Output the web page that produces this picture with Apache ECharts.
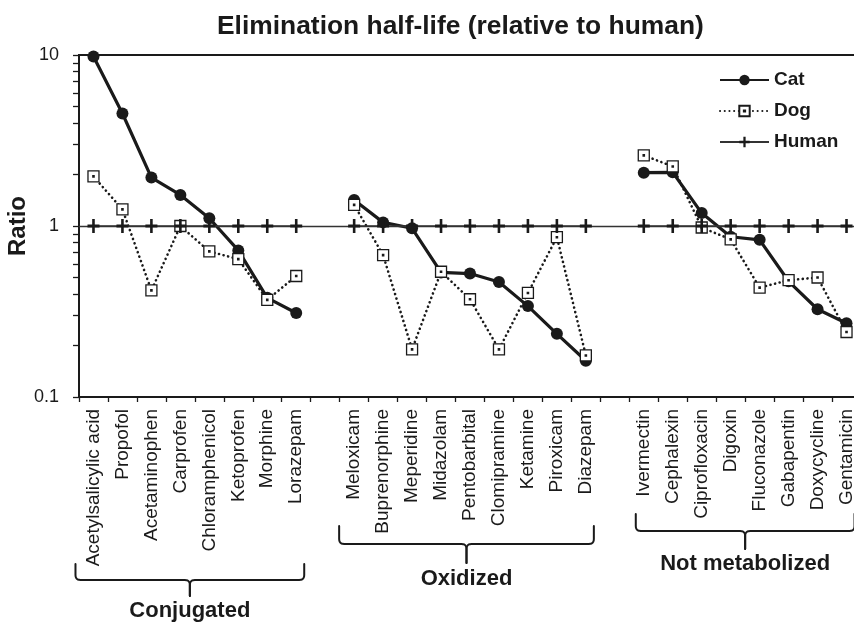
<!DOCTYPE html>
<html><head><meta charset="utf-8">
<script src="https://cdn.jsdelivr.net/npm/echarts@6/dist/echarts.min.js"></script>
<style>html,body{margin:0;padding:0;background:#fff}#c{width:854px;height:623px}</style>
</head><body><div id="c"></div>
<script>
const categories = ['Acetylsalicylic acid','Propofol','Acetaminophen','Carprofen','Chloramphenicol','Ketoprofen','Morphine','Lorazepam','',
  'Meloxicam','Buprenorphine','Meperidine','Midazolam','Pentobarbital','Clomipramine','Ketamine','Piroxicam','Diazepam','',
  'Ivermectin','Cephalexin','Ciprofloxacin','Digoxin','Fluconazole','Gabapentin','Doxycycline','Gentamicin'];
const catValues = [9.8,4.55,1.92,1.52,1.11,0.72,0.38,0.31,null,
  1.42,1.05,0.97,0.535,0.527,0.47,0.34,0.234,0.163,null,
  2.05,2.06,1.19,0.865,0.83,0.475,0.326,0.27];
const dogValues = [1.95,1.25,0.42,1.0,0.71,0.64,0.37,0.51,null,
  1.33,0.676,0.19,0.54,0.373,0.19,0.406,0.86,0.175,null,
  2.59,2.23,0.98,0.835,0.436,0.482,0.5,0.24];
const humanValues = [1,1,1,1,1,1,1,1,null,
  1,1,1,1,1,1,1,1,1,null,
  1,1,1,1,1,1,1,1];
const groupNames = ['Conjugated','Oxidized','Not metabolized'];
const groupFirst = [0, 9, 19];
const groupLast = [7, 17, 26];
const yTickLabels = [0.1, 1, 10];

const FONT = '"Liberation Sans", Arial, Helvetica, sans-serif';
const INK = '#1a1a1a';

// minor + major tick positions for log axis (2..9 within each decade)
const yTickValues = [];
for (let i = 0; i < yTickLabels.length - 1; i++) {
  for (let k = 1; k < 10; k++) yTickValues.push(+(yTickLabels[i] * k).toPrecision(3));
}
yTickValues.push(yTickLabels[yTickLabels.length - 1]);

const plusPath = 'path://M4.7,0H7.3V4.7H12V7.3H7.3V12H4.7V7.3H0V4.7H4.7Z';
const dogPath = 'path://M0,0H10V10H0Z M4.4,4.4H5.6V5.6H4.4Z';

const chart = echarts.init(document.getElementById('c'), null, {renderer: 'canvas'});
chart.setOption({
  animation: false,
  backgroundColor: '#fff',
  title: {
    text: 'Elimination half-life (relative to human)',
    left: 212, top: 9,
    textStyle: {fontFamily: FONT, fontSize: 26.4, fontWeight: 'bold', color: INK}
  },
  legend: {
    orient: 'vertical', left: 719, top: 70, padding: 0,
    itemWidth: 49, itemHeight: 13, itemGap: 11,
    data: ['Cat', 'Dog', 'Human'],
    textStyle: {fontFamily: FONT, fontSize: 19, fontWeight: 'bold', color: INK, lineHeight: 20}
  },
  grid: {left: 79, right: -7, top: 55, bottom: 226, show: true, borderColor: INK, borderWidth: 2,
    containLabel: false, outerBoundsMode: 'none'},
  xAxis: {
    type: 'category', data: categories, boundaryGap: true,
    axisLine: {lineStyle: {color: INK, width: 2}},
    axisTick: {show: true, interval: 0, length: 5, lineStyle: {color: INK, width: 1.3}},
    axisLabel: {interval: 0, rotate: 90, margin: 12, fontFamily: FONT, fontSize: 19, color: INK},
    splitLine: {show: false}
  },
  yAxis: {
    type: 'log', logBase: 10, min: 0.1, max: 10,
    name: 'Ratio', nameLocation: 'middle', nameRotate: 90, nameGap: 49, nameMoveOverlap: false,
    nameTextStyle: {fontFamily: FONT, fontSize: 24, fontWeight: 'bold', color: INK},
    axisLine: {show: true, lineStyle: {color: INK, width: 2}},
    axisTick: {show: true, length: 6, customValues: yTickValues, lineStyle: {color: INK, width: 1.3}},
    axisLabel: {customValues: yTickLabels, margin: 20, fontFamily: FONT, fontSize: 18, color: INK,
      formatter: v => String(+v.toPrecision(3))},
    splitLine: {show: false}
  },
  series: [
    {
      name: 'Cat', type: 'line', data: catValues,
      symbol: 'circle', symbolSize: 12,
      itemStyle: {color: INK},
      lineStyle: {color: INK, width: 3.2},
      z: 3
    },
    {
      name: 'Dog', type: 'line', data: dogValues,
      symbol: dogPath, symbolSize: 11,
      itemStyle: {color: '#fff', borderColor: INK, borderWidth: 1.3},
      lineStyle: {color: INK, width: 2.6, type: [0.1, 4.6], cap: 'round'},
      z: 4
    },
    {
      name: 'Human', type: 'line', data: humanValues,
      symbol: plusPath, symbolSize: [12, 14],
      itemStyle: {color: INK},
      lineStyle: {color: '#333', width: 1.3},
      markLine: {
        silent: true, symbol: ['none', 'none'], label: {show: false},
        lineStyle: {color: '#333', width: 1.3, type: 'solid'},
        data: [{yAxis: 1}]
      },
      z: 5
    }
  ]
});

// group braces beneath the category labels (annotation layout)
const braceLayout = [
  {dxL: -18, dxR: 8, yTop: 564, yH: 580, yBot: 596, labelY: 611},
  {dxL: -15, dxR: 8, yTop: 526, yH: 544, yBot: 563, labelY: 579},
  {dxL: -8,  dxR: 8, yTop: 514, yH: 531, yBot: 549, labelY: 564}
];
function quad(p0, c, p1, n, out) {
  for (let i = 1; i <= n; i++) {
    const t = i / n, a = (1 - t) * (1 - t), b = 2 * (1 - t) * t, d = t * t;
    out.push([a * p0[0] + b * c[0] + d * p1[0], a * p0[1] + b * c[1] + d * p1[1]]);
  }
}
const graphics = [];
groupNames.forEach((name, g) => {
  const L = braceLayout[g];
  const x1 = chart.convertToPixel({xAxisIndex: 0}, groupFirst[g]) + L.dxL;
  const x2 = chart.convertToPixel({xAxisIndex: 0}, groupLast[g]) + L.dxR;
  const xc = (x1 + x2) / 2, r = 5;
  const left = [[x1, L.yTop], [x1, L.yH - r]];
  quad([x1, L.yH - r], [x1, L.yH], [x1 + r, L.yH], 6, left);
  left.push([xc - r, L.yH]);
  quad([xc - r, L.yH], [xc, L.yH], [xc, L.yH + r], 6, left);
  left.push([xc, L.yBot]);
  const right = [[x2, L.yTop], [x2, L.yH - r]];
  quad([x2, L.yH - r], [x2, L.yH], [x2 - r, L.yH], 6, right);
  right.push([xc + r, L.yH]);
  quad([xc + r, L.yH], [xc, L.yH], [xc, L.yH + r], 6, right);
  right.push([xc, L.yBot]);
  [left, right].forEach(pts => graphics.push({
    type: 'polyline', shape: {points: pts},
    style: {stroke: INK, lineWidth: 2, fill: null, lineJoin: 'round', lineCap: 'round'}, silent: true
  }));
  graphics.push({
    type: 'text', x: xc, y: L.labelY,
    style: {text: name, fontFamily: FONT, fontSize: 22, fontWeight: 'bold', fill: INK, align: 'center', verticalAlign: 'middle'},
    silent: true
  });
});
chart.setOption({graphic: {elements: graphics}});
</script>
</body></html>
